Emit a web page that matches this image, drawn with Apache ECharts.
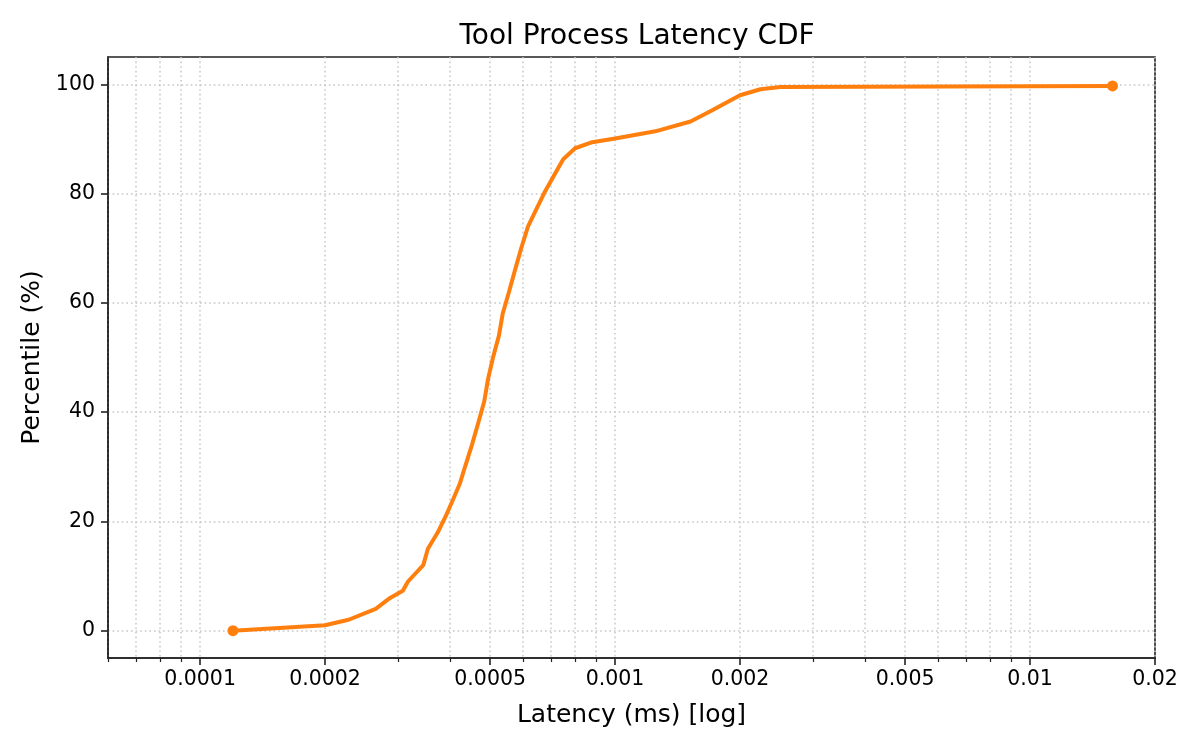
<!DOCTYPE html>
<html>
<head>
<meta charset="utf-8">
<title>Tool Process Latency CDF</title>
<script src="https://cdn.jsdelivr.net/npm/echarts@6/dist/echarts.min.js"></script>
<style>
    html, body { margin: 0; padding: 0; background: #fff; }
    #chart { width: 1200px; height: 750px; }
</style>
</head>
<body>
<div id="chart"></div>
<script>
// latency in ms
var latencyMs = [0.00012, 0.0002, 0.000228, 0.000265, 0.000287, 0.000308, 0.000317, 0.000345,
    0.000354, 0.000374, 0.000391, 0.000407, 0.000423, 0.000435, 0.000452, 0.000468, 0.000484,
    0.000494, 0.000508, 0.000525, 0.000536, 0.000555, 0.000574, 0.000594, 0.000617, 0.000645,
    0.000678, 0.000721, 0.00075, 0.000801, 0.000881, 0.001, 0.00125, 0.00152, 0.00171, 0.002,
    0.00224, 0.0025, 0.0158];
var percentile = [0, 1, 2, 4, 6, 7.3, 9, 12, 15, 18, 21, 24, 27, 30, 34, 38, 42, 46, 50, 54, 58,
    62, 66, 70, 74, 77, 80.4, 84, 86.3, 88.3, 89.4, 90.1, 91.4, 93.2, 95.2, 98, 99.1, 99.5, 99.7];

var xTickValues = [0.0001, 0.0002, 0.0005, 0.001, 0.002, 0.005, 0.01, 0.02];
var xTickLabels = ['0.0001', '0.0002', '0.0005', '0.001', '0.002', '0.005', '0.01', '0.02'];
var xMinorValues = [0.00006, 0.00007, 0.00008, 0.00009, 0.0003, 0.0004, 0.0006, 0.0007, 0.0008,
    0.0009, 0.003, 0.004, 0.006, 0.007, 0.008, 0.009];
var yTickValues = [0, 20, 40, 60, 80, 100];

var xMin = 0.00006, xMax = 0.02;

var FONT = 'DejaVu Sans';
var gridDots = { color: '#c6c6c6', width: 1.5, type: [1.6, 3] };

function lg(v) { return Math.log10(v); }

var lineData = [];
for (var i = 0; i < latencyMs.length; i++) {
    lineData.push([lg(latencyMs[i]), percentile[i]]);
}

function xLabel(v) {
    for (var i = 0; i < xTickValues.length; i++) {
        if (Math.abs(lg(xTickValues[i]) - v) < 1e-6) return xTickLabels[i];
    }
    return '';
}

var myChart = echarts.init(document.getElementById('chart'), null, { renderer: 'canvas' });

var option = {
    backgroundColor: '#fff',
    animation: false,
    textStyle: { fontFamily: FONT },
    title: {
        text: 'Tool Process Latency CDF',
        left: 632,
        top: 18,
        textAlign: 'center',
        textStyle: { fontFamily: FONT, fontSize: 28, fontWeight: 'normal', color: '#000' }
    },
    grid: {
        left: 108, right: 45, top: 57, bottom: 92,
        show: true,
        borderColor: '#222',
        borderWidth: 1.6,
        containLabel: false,
        outerBoundsMode: 'none'
    },
    xAxis: [{
        type: 'value',
        position: 'bottom',
        min: lg(xMin),
        max: lg(xMax),
        name: 'Latency (ms) [log]',
        nameLocation: 'middle',
        nameGap: 45,
        nameTextStyle: { fontFamily: FONT, fontSize: 25, color: '#000' },
        axisLine: { show: true, onZero: false, lineStyle: { color: '#222', width: 1.6 } },
        axisTick: {
            show: true, inside: false, length: 7,
            customValues: xTickValues.map(lg),
            lineStyle: { color: '#222', width: 1.6 }
        },
        axisLabel: {
            show: true, margin: 11,
            customValues: xTickValues.map(lg),
            formatter: xLabel,
            fontFamily: FONT, fontSize: 20.5, color: '#000'
        },
        splitLine: { show: true, lineStyle: gridDots }
    }, {
        type: 'value',
        position: 'bottom',
        offset: 0,
        min: lg(xMin),
        max: lg(xMax),
        axisLine: { show: false, onZero: false },
        axisTick: {
            show: true, inside: false, length: 4,
            customValues: xMinorValues.map(lg),
            lineStyle: { color: '#222', width: 1.2 }
        },
        axisLabel: { show: false },
        splitLine: { show: true, lineStyle: gridDots }
    }],
    yAxis: {
        type: 'value',
        min: -5,
        max: 105,
        name: 'Percentile (%)',
        nameLocation: 'middle',
        nameGap: 56,
        nameTextStyle: { fontFamily: FONT, fontSize: 25, color: '#000' },
        axisLine: { show: true, onZero: false, lineStyle: { color: '#222', width: 1.6 } },
        axisTick: {
            show: true, inside: false, length: 7,
            customValues: yTickValues,
            lineStyle: { color: '#222', width: 1.6 }
        },
        axisLabel: {
            show: true, margin: 13,
            customValues: yTickValues,
            fontFamily: FONT, fontSize: 20.5, color: '#000'
        },
        splitLine: { show: true, lineStyle: gridDots }
    },
    series: [{
        type: 'line',
        xAxisIndex: 0,
        data: lineData,
        color: '#ff7f0e',
        lineStyle: { color: '#ff7f0e', width: 4 },
        symbol: 'circle',
        showSymbol: true,
        showAllSymbol: true,
        symbolSize: function (value, params) {
            return (params.dataIndex === 0 || params.dataIndex === lineData.length - 1) ? 11 : 0;
        },
        itemStyle: { color: '#ff7f0e' },
        smooth: false,
        z: 3
    }]
};

myChart.setOption(option);
</script>
</body>
</html>
